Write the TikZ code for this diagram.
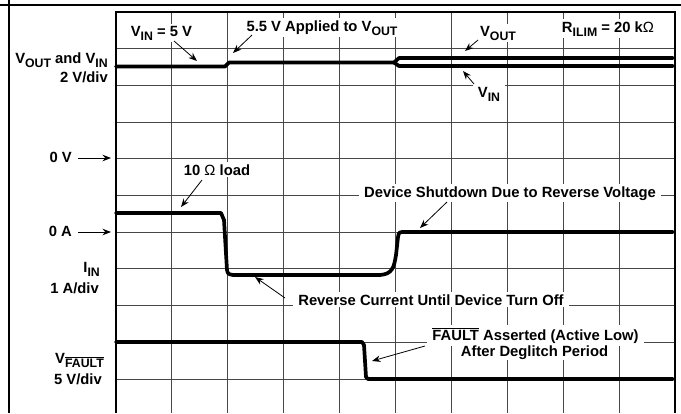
\documentclass[tikz,border=0pt]{standalone}
\usepackage{fontspec}
\setmainfont{Liberation Sans}
\usetikzlibrary{arrows.meta}
\newcommand{\sbs}[1]{\raisebox{-0.28em}{\fontsize{12.3}{12.3}\selectfont #1}}
\newcommand{\ovl}[1]{$\overline{\hbox{#1}}$}
\begin{document}
\begin{tikzpicture}[x=1pt,y=-1pt,
  font=\fontsize{14.8}{17}\selectfont\bfseries,
  gridline/.style={draw=black!72,line width=1pt},
  border/.style={draw=black,line width=1.7pt},
  trace/.style={draw=black,line width=3.7pt,line join=round,line cap=round},
  lbl/.style={fill=white,inner xsep=5pt,inner ysep=2pt,anchor=base},
  side/.style={inner sep=0pt,anchor=base east},
  arr/.style={draw=black,line width=0.8pt,-{Stealth[length=8.5pt,width=6.5pt]}}]
\useasboundingbox (0,0) rectangle (681,413);
% outer frame lines
\draw[line width=1.1pt] (0,5) -- (681,5);
\draw[line width=1.1pt] (9,0) -- (9,413);
% grid
\foreach \i in {1,...,9} \draw[gridline] ({116+55.9*\i},12) -- ({116+55.9*\i},413);
\foreach \j in {1,...,10} \draw[gridline] (116,{12+36.7*\j}) -- (675,{12+36.7*\j});
\draw[border] (116,413) -- (116,12) -- (675,12) -- (675,413);
% traces
\draw[trace] (116,66.5) -- (225,66.5) -- (229,62.5) -- (394,62.5) -- (399,58) -- (673,58);
\draw[trace] (394,62.5) -- (399,66) -- (673,66);
\draw[trace] (116,213) -- (221,213) -- (224,220) -- (227,270) .. controls (228,274) .. (233,275)
  -- (380,275) .. controls (392,274) and (394,268) .. (396,255) -- (398,237)
  .. controls (399,232) .. (405,232) -- (673,232);
\draw[trace] (116,342) -- (362,342) -- (364,345) -- (366,377) -- (368,379) -- (673,379);
% side labels
\node[side] (lvo) at (108,63) {V\sbs{OUT} and V\sbs{IN}};
\node[side] (lvd) at (108,82) {2 V/div};
\node[side] (l0v) at (72,162) {0 V};
\node[side] (l0a) at (72,236) {0 A};
\node[side] (liin) at (100,272) {I\sbs{IN}};
\node[side] (lad) at (99,293) {1 A/div};
\node[side] (lvf) at (104,363) {V\sbs{\ovl{FAULT}}};
\node[side] (lvfd) at (102,384) {5 V/div};
\coordinate (c0v) at (111,158);
\coordinate (c0a) at (111,232);
\draw[arr] ([xshift=6pt,yshift=4pt]l0v.base east) -- (c0v);
\draw[arr] ([xshift=6pt,yshift=4pt]l0a.base east) -- (c0a);
% plot labels
\node[lbl] (vin5) at (161.5,36) {V\sbs{IN} = 5 V};
\node[lbl] (app) at (322,31) {5.5 V Applied to V\sbs{OUT}};
\node[lbl] (vout) at (498,36) {V\sbs{OUT}};
\node[lbl] (rilim) at (608,32) {R\sbs{ILIM} = 20 k{\mdseries Ω}};
\node[lbl] (vinl) at (489,97) {V\sbs{IN}};
\node[lbl] (load) at (217,175) {10 {\mdseries Ω} load};
\node[lbl] (shut) at (510,197) {Device Shutdown Due to Reverse Voltage};
\node[lbl] (rev) at (431,305) {Reverse Current Until Device Turn Off};
\node[lbl,inner ysep=3pt] (flt) at (535.5,340) {\ovl{FAULT} Asserted (Active Low)};
\node[lbl,inner ysep=1pt] (flt2) at (534.5,356) {After Deglitch Period};
% arrow tips and tails
\coordinate (s1) at (174,41);  \coordinate (t1) at (197,61);
\coordinate (s2) at (252,35);  \coordinate (t2) at (233,53);
\coordinate (s3) at (478,40);  \coordinate (t3) at (465,51);
\coordinate (s4) at (474,84);  \coordinate (t4) at (463,71);
\coordinate (s5) at (202,180); \coordinate (t5) at (181,207);
\coordinate (s6) at (447,202); \coordinate (t6) at (420,228);
\coordinate (s7) at (285,298); \coordinate (t7) at (255,277);
\coordinate (s8) at (425,346); \coordinate (t8) at (372,361);
\draw[arr] (s1) -- (t1);
\draw[arr] (s2) -- (t2);
\draw[arr] (s3) -- (t3);
\draw[arr] (s4) -- (t4);
\draw[arr] (s5) -- (t5);
\draw[arr] (s6) -- (t6);
\draw[arr] (s7) -- (t7);
\draw[arr] (s8) -- (t8);
\end{tikzpicture}
\end{document}
